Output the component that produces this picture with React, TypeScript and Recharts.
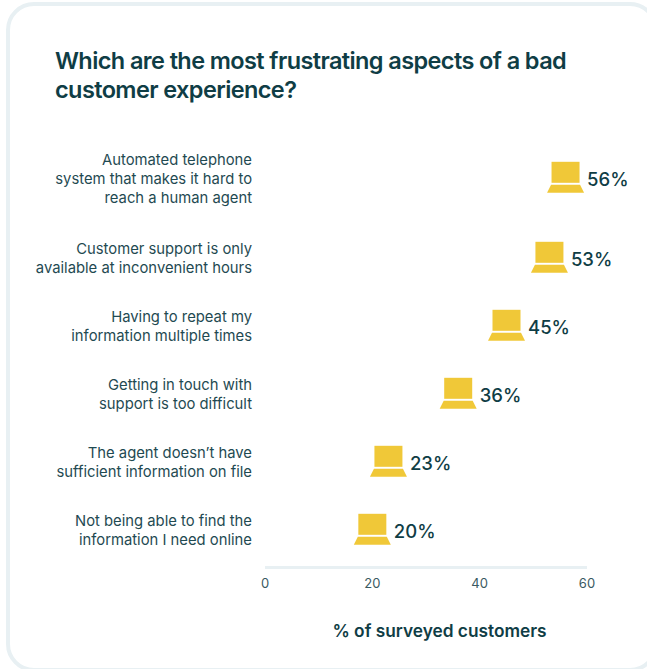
import { BarChart, Bar, XAxis, YAxis, LabelList, Label } from "recharts";

const CATEGORIES = [
  "Automated telephone|system that makes it hard to|reach a human agent",
  "Customer support is only|available at inconvenient hours",
  "Having to repeat my|information multiple times",
  "Getting in touch with|support is too difficult",
  "The agent doesn’t have|sufficient information on file",
  "Not being able to find the|information I need online",
];
const VALUES = [56, 53, 45, 36, 23, 20];
const X_TICKS = [0, 20, 40, 60];

const data = CATEGORIES.map((c, i) => ({ category: c, value: VALUES[i] }));

const DARK = "#0f3d45";
const FONT = "Inter, sans-serif";

// rows are evenly spaced except the three line one, which sits higher
const rowShift = (label: string) => (label.split("|").length > 2 ? -12 : 0);

function Laptop(props: any) {
  const { x, y, width, height, category } = props;
  const cx = x + width;
  const cy = y + height / 2 + rowShift(category);
  const fill = "#f0c838";
  return (
    <g>
      <rect x={cx - 14} y={cy - 15.5} width={28} height={21} fill={fill} />
      <path d={`M${cx - 14.5} ${cy + 7.5}L${cx + 14.5} ${cy + 7.5}L${cx + 18.5} ${cy + 15.5}L${cx - 18.5} ${cy + 15.5}Z`} fill={fill} />
    </g>
  );
}

function ValueLabel(props: any) {
  const { x, y, width, height, value, index } = props;
  const cy = y + height / 2 + rowShift(CATEGORIES[index]);
  return (
    <text x={x + width + 21.5} y={cy + 9} fill={DARK} fontSize={18.5} fontWeight={500} fontFamily={FONT}>
      {value}%
    </text>
  );
}

function CategoryTick(props: any) {
  const { x, y, payload } = props;
  const lines = payload.value.split("|");
  const cy = y + rowShift(payload.value) + 1;
  return (
    <text textAnchor="end" fill="#1f4a52" fontSize={14.8} fontFamily={FONT}>
      {lines.map((l: string, i: number) => (
        <tspan key={i} x={x} y={cy + (i - (lines.length - 1) / 2) * 19 + 5}>{l}</tspan>
      ))}
    </text>
  );
}

export default function App() {
  return (
    <div style={{ position: "absolute", left: 0, top: 0, width: 647, height: 669, overflow: "hidden", background: "#fff" }}>
      <div style={{ position: "absolute", left: 6, top: 2, width: 652, height: 670, boxSizing: "border-box", border: "4px solid #e8f0f3", borderRadius: 28 }} />
      <div style={{ position: "absolute", left: 55, top: 46, width: 560, fontFamily: FONT, fontWeight: 600, fontSize: 23.5, letterSpacing: -0.6, lineHeight: "29px", color: DARK }}>
        Which are the most frustrating aspects of a bad<br />customer experience?
      </div>
      <BarChart
        layout="vertical"
        width={647}
        height={669}
        data={data}
        margin={{ top: 155.5, right: 60, bottom: 41.5, left: 0 }}
        style={{ position: "absolute", left: 0, top: 0 }}
      >
        <XAxis
          type="number"
          domain={[0, 60]}
          ticks={X_TICKS}
          height={60}
          tickLine={false}
          axisLine={{ stroke: "#e8f0f3", strokeWidth: 3 }}
          tick={{ fill: "#3a5a62", fontSize: 13, fontFamily: FONT }}
          tickMargin={5}
        >
          <Label value="% of surveyed customers" position="insideBottom" offset={-9} dx={13.5} fill={DARK} fontSize={17.3} fontWeight={600} fontFamily={FONT} />
        </XAxis>
        <YAxis
          type="category"
          dataKey="category"
          width={265}
          axisLine={false}
          tickLine={false}
          interval={0}
          padding={{ bottom: 4 }}
          tick={<CategoryTick />}
          tickMargin={7}
        />
        <Bar dataKey="value" isAnimationActive={false} shape={<Laptop />}>
          <LabelList dataKey="value" content={<ValueLabel />} />
        </Bar>
      </BarChart>
    </div>
  );
}
